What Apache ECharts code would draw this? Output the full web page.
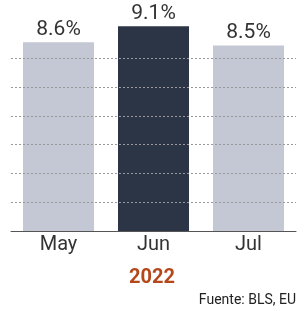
<!DOCTYPE html>
<html lang="es">
<head>
    <meta charset="UTF-8">
    <title>Inflación 2022</title>
    <script src="https://cdn.jsdelivr.net/npm/echarts@6/dist/echarts.min.js"></script>
    <style>
        html, body { margin: 0; padding: 0; background: #fff; }
        #chart { width: 304px; height: 311px; }
    </style>
</head>
<body>
    <div id="chart"></div>
    <script>
        // datos
        var months = ["May", "Jun", "Jul"];
        var rates = [8.6, 9.1, 8.5];
        var gridValues = [3.6, 4.5, 5.4, 6.3, 7.2, 8.1];
        var yearLabel = "2022";
        var sourceText = "Fuente: BLS, EU";

        var barColors = ["#c4c8d4", "#2c3546", "#c4c8d4"];

        var myChart = echarts.init(document.getElementById("chart"));

        var option = {
            animation: false,
            grid: { left: 11, right: 8, top: 0.6, bottom: 80 },
            xAxis: {
                type: "category",
                data: months,
                axisTick: { show: false },
                axisLine: { lineStyle: { color: "#555", width: 1 } },
                axisLabel: {
                    color: "#333",
                    fontSize: 20,
                    fontFamily: "Roboto, sans-serif",
                    margin: 4
                }
            },
            yAxis: {
                type: "value",
                min: 2.7,
                max: 9.9,
                interval: 0.9,
                axisLabel: { show: false },
                axisLine: { show: false },
                axisTick: { show: false },
                splitLine: { show: false }
            },
            series: [{
                // lineas de guia punteadas, detras de las barras
                type: "line",
                z: 1,
                data: [],
                markLine: {
                    silent: true,
                    symbol: "none",
                    label: { show: false },
                    lineStyle: { color: "#999", type: [2, 2], width: 1 },
                    data: gridValues.map(function (v) { return { yAxis: v }; })
                }
            }, {
                type: "bar",
                z: 2,
                barWidth: 71,
                data: rates.map(function (v, i) {
                    return { value: v, itemStyle: { color: barColors[i] } };
                }),
                label: {
                    show: true,
                    position: "top",
                    distance: 2,
                    color: "#333",
                    fontSize: 21,
                    fontFamily: "Roboto, sans-serif",
                    formatter: function (p) { return p.value.toFixed(1) + "%"; }
                }
            }],
            graphic: [{
                type: "text",
                left: "center",
                top: 268,
                style: {
                    text: yearLabel,
                    font: "bold 20px Roboto, sans-serif",
                    fill: "#b4481a"
                }
            }, {
                type: "text",
                right: 8,
                top: 293,
                style: {
                    text: sourceText,
                    font: "14px 'Liberation Sans Narrow', Roboto, sans-serif",
                    fill: "#222"
                }
            }]
        };

        myChart.setOption(option);
    </script>
</body>
</html>
